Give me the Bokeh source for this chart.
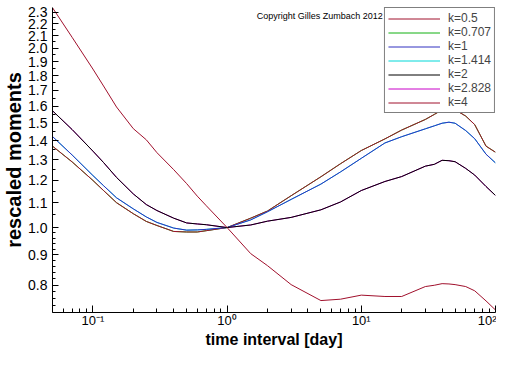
from bokeh.plotting import figure
from bokeh.models import (FixedTicker, CustomJSTickFormatter, Label, Legend,
                          LegendItem, Range1d)
from bokeh.embed import file_html
from bokeh.resources import INLINE

# ---- data ----
t_days = [0.05, 0.07, 0.1, 0.12, 0.15, 0.2, 0.25, 0.3, 0.4, 0.5, 0.6, 0.7, 1,
          1.5, 2, 3, 5, 7, 10, 15, 20, 30, 35, 40, 45, 50, 60, 70, 85, 100]

k_0_5 = [1.370, 1.289, 1.200, 1.154, 1.101, 1.055, 1.024, 1.008, 0.985, 0.983,
         0.983, 0.988, 1.000, 1.037, 1.066, 1.131, 1.217, 1.280, 1.347, 1.409,
         1.458, 1.519, 1.549, 1.576, 1.584, 1.577, 1.539, 1.489, 1.370, 1.338]
k_0_707 = [1.370, 1.289, 1.200, 1.154, 1.101, 1.055, 1.024, 1.008, 0.985, 0.983,
           0.983, 0.988, 1.000, 1.037, 1.066, 1.131, 1.217, 1.280, 1.347, 1.409,
           1.458, 1.519, 1.549, 1.576, 1.584, 1.577, 1.539, 1.489, 1.370, 1.338]
k_1 = [1.422, 1.324, 1.223, 1.176, 1.122, 1.075, 1.042, 1.020, 0.998, 0.990,
       0.991, 0.993, 1.000, 1.030, 1.063, 1.115, 1.183, 1.240, 1.307, 1.387,
       1.421, 1.465, 1.482, 1.497, 1.503, 1.497, 1.455, 1.410, 1.328, 1.284]
k_1_414 = [1.422, 1.324, 1.223, 1.176, 1.122, 1.075, 1.042, 1.020, 0.998, 0.990,
           0.991, 0.993, 1.000, 1.030, 1.063, 1.115, 1.183, 1.240, 1.307, 1.387,
           1.421, 1.465, 1.482, 1.497, 1.503, 1.497, 1.455, 1.410, 1.328, 1.284]
k_2 = [1.571, 1.461, 1.344, 1.286, 1.214, 1.139, 1.093, 1.068, 1.037, 1.018,
       1.014, 1.011, 1.000, 1.010, 1.025, 1.040, 1.071, 1.104, 1.154, 1.195,
       1.218, 1.268, 1.277, 1.297, 1.295, 1.290, 1.257, 1.225, 1.172, 1.132]
k_2_828 = [1.571, 1.461, 1.344, 1.286, 1.214, 1.139, 1.093, 1.068, 1.037, 1.018,
           1.014, 1.011, 1.000, 1.010, 1.025, 1.040, 1.071, 1.104, 1.154, 1.195,
           1.218, 1.268, 1.277, 1.297, 1.295, 1.290, 1.257, 1.225, 1.172, 1.132]
k_4 = [2.340, 2.087, 1.846, 1.729, 1.594, 1.466, 1.404, 1.336, 1.251, 1.185,
       1.129, 1.088, 1.000, 0.904, 0.863, 0.802, 0.754, 0.758, 0.770, 0.766,
       0.766, 0.796, 0.800, 0.805, 0.804, 0.802, 0.796, 0.783, 0.753, 0.727]

legend_labels = ["k=0.5", "k=0.707", "k=1", "k=1.414", "k=2", "k=2.828", "k=4"]

x_major_ticks = [0.1, 1, 10, 100]
x_minor_ticks = [0.06, 0.07, 0.08, 0.09, 0.2, 0.3, 0.4, 0.5, 0.6, 0.7, 0.8, 0.9,
                 2, 3, 4, 5, 6, 7, 8, 9, 20, 30, 40, 50, 60, 70, 80, 90]
y_major_ticks = [0.8, 0.9, 1.0, 1.1, 1.2, 1.3, 1.4, 1.5, 1.6, 1.7, 1.8, 1.9,
                 2.0, 2.1, 2.2, 2.3]
y_minor_ticks = [0.72, 0.74, 0.76, 0.78, 0.82, 0.84, 0.86, 0.88, 0.92, 0.94,
                 0.96, 0.98, 1.05, 1.15, 1.25, 1.35, 1.45, 1.55, 1.65, 1.75,
                 1.85, 1.95, 2.05, 2.15, 2.25]

FONT = "Liberation Sans"
RED = "#a0102c"

p = figure(width=496, height=350, x_axis_type="log", y_axis_type="log",
           x_range=Range1d(0.05, 100), y_range=Range1d(0.72, 2.342),
           output_backend="svg", toolbar_location=None,
           min_border_left=47, min_border_right=1, min_border_top=7,
           min_border_bottom=26)
p.outline_line_color = None
p.xgrid.visible = False
p.ygrid.visible = False
p.background_fill_color = "white"
p.border_fill_color = "white"

# series that are hidden under others in the reference, drawn first
r0707 = p.line(t_days, k_0_707, line_color="#10b010", line_width=1)
r1414 = p.line(t_days, k_1_414, line_color="#00d8d8", line_width=1)
r2828 = p.line(t_days, k_2_828, line_color="#c800c8", line_width=1)
r05 = p.line(t_days, k_0_5, line_color=RED, line_width=1)
r1 = p.line(t_days, k_1, line_color="#3030c0", line_width=1)
r2 = p.line(t_days, k_2, line_color="black", line_width=1)
r4 = p.line(t_days, k_4, line_color=RED, line_width=1)

renderers = [r05, r0707, r1, r1414, r2, r2828, r4]
legend = Legend(items=[LegendItem(label=l, renderers=[r]) for l, r in zip(legend_labels, renderers)],
                location="top_right", margin=0, padding=3, spacing=0,
                glyph_width=52, glyph_height=13, label_height=13,
                label_standoff=8, label_text_font=FONT,
                label_text_font_size="12px", border_line_color="black",
                border_line_width=1, background_fill_color="white",
                background_fill_alpha=1.0)
p.add_layout(legend)

xa = p.xaxis[0]
xa.ticker = FixedTicker(ticks=x_major_ticks, minor_ticks=x_minor_ticks)
xa.formatter = CustomJSTickFormatter(code="""
const sup = {"-": "\\u207B", "0": "\\u2070", "1": "\\u00B9", "2": "\\u00B2", "3": "\\u00B3"};
const e = Math.round(Math.log10(tick));
return "10" + String(e).split("").map(c => sup[c]).join("");
""")
xa.major_label_standoff = 0
xa.major_label_text_font_size = "13px"
xa.major_tick_in = 7
xa.minor_tick_in = 4
xa.axis_label = "time interval [day]"
xa.axis_label_text_font_size = "16px"
xa.axis_label_standoff = 0

ya = p.yaxis[0]
ya.ticker = FixedTicker(ticks=y_major_ticks, minor_ticks=y_minor_ticks)
ya.formatter = CustomJSTickFormatter(code="return tick.toFixed(1);")
ya.major_label_standoff = 5
ya.major_label_text_font_size = "14px"
ya.major_tick_in = 6
ya.minor_tick_in = 3
ya.axis_label = "rescaled moments"
ya.axis_label_text_font_size = "20px"
ya.axis_label_standoff = 0

for ax in (xa, ya):
    ax.major_tick_out = 0
    ax.minor_tick_out = 0
    ax.axis_line_color = "black"
    ax.axis_line_width = 1
    ax.major_tick_line_color = "black"
    ax.minor_tick_line_color = "black"
    ax.major_label_text_font = FONT
    ax.major_label_text_color = "black"
    ax.axis_label_text_font = FONT
    ax.axis_label_text_font_style = "bold"
    ax.axis_label_text_color = "black"

p.add_layout(Label(x=1.66, y=2.27, text="Copyright Gilles Zumbach 2012",
                   text_align="left", text_baseline="middle", text_font=FONT,
                   text_font_size="9px", text_color="black"))

open("out.html", "w").write(file_html(p, INLINE))
